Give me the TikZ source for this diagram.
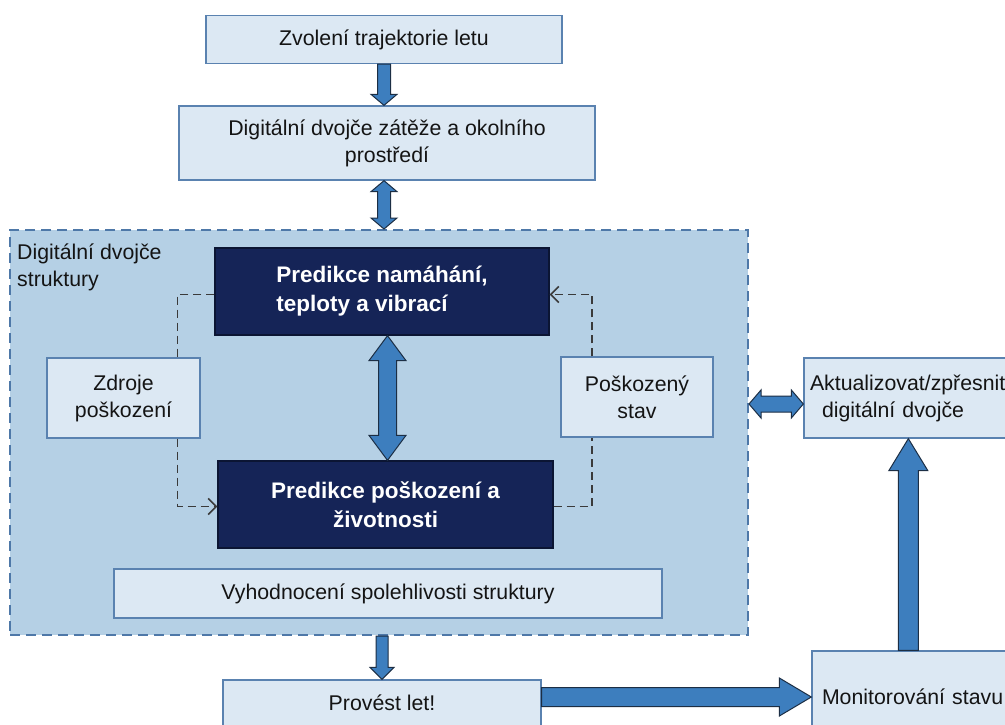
\documentclass[tikz,border=0pt]{standalone}
\usepackage{fontspec}
\setmainfont{Liberation Sans}
\usepackage{tikz}
\usetikzlibrary{arrows.meta, calc}
\definecolor{BoxFill}{HTML}{DCE8F3}
\definecolor{BoxLine}{HTML}{5A82B0}
\definecolor{ContFill}{HTML}{B5D0E5}
\definecolor{ContLine}{HTML}{4E78A8}
\definecolor{DarkFill}{HTML}{152457}
\definecolor{DarkLine}{HTML}{0B1533}
\definecolor{ArrowFill}{HTML}{3D7EBE}
\definecolor{ArrowLine}{HTML}{1C2E44}
\definecolor{DashGray}{HTML}{3A3A3A}
\definecolor{TextBlack}{HTML}{141414}
\tikzset{
  % Box styles
  lightbox/.style={rectangle, draw=BoxLine, line width=1.3pt, fill=BoxFill, text=TextBlack, align=center, inner sep=0pt},
  darkbox/.style={rectangle, draw=DarkLine, line width=1.3pt, fill=DarkFill, text=white, font=\fontsize{22.5}{29}\selectfont\bfseries, inner sep=0pt},
  contbox/.style={rectangle, draw=ContLine, line width=2pt, dash pattern=on 10pt off 6pt, fill=ContFill},
  % Arrow styles
  dashline/.style={draw=DashGray, line width=1.8pt, dash pattern=on 8pt off 5pt},
  dasharrow/.style={dashline, -{Straight Barb[length=8pt, width=16pt, line width=1.6pt]}},
  fatarrowstyle/.style={fill=ArrowFill, draw=ArrowLine, line width=1pt, line join=miter}
}
% fat arrow: from, to, half shaft, half head, head length
\newcommand{\fatarrow}[5]{%
  \coordinate (fahead) at ($(#2)!#5!(#1)$);
  \filldraw[fatarrowstyle] ($(#1)!#3!90:(#2)$) -- ($(fahead)!#3!90:(#2)$) -- ($(fahead)!#4!90:(#2)$) -- (#2)
    -- ($(fahead)!#4!-90:(#2)$) -- ($(fahead)!#3!-90:(#2)$) -- ($(#1)!#3!-90:(#2)$) -- cycle;
}
\newcommand{\fatdarrow}[5]{%
  \coordinate (faheadA) at ($(#1)!#5!(#2)$);
  \coordinate (faheadB) at ($(#2)!#5!(#1)$);
  \filldraw[fatarrowstyle] (#1) -- ($(faheadA)!#4!90:(#2)$) -- ($(faheadA)!#3!90:(#2)$) -- ($(faheadB)!#3!90:(#2)$)
    -- ($(faheadB)!#4!90:(#2)$) -- (#2) -- ($(faheadB)!#4!-90:(#2)$) -- ($(faheadB)!#3!-90:(#2)$)
    -- ($(faheadA)!#3!-90:(#2)$) -- ($(faheadA)!#4!-90:(#2)$) -- cycle;
}

\begin{document}
\begin{tikzpicture}[x=1pt, y=-1pt, font=\fontsize{21.3}{27}\selectfont]
  \useasboundingbox (0,0) rectangle (1005,724);
  \clip (0,0) rectangle (1005,724);

  % Top boxes
  \node[lightbox, minimum width=356, minimum height=48] (zvol) at (384,39.5) {Zvolení trajektorie letu};
  \node[lightbox, minimum width=416, minimum height=74] (dvoj) at (387,143) {Digitální dvojče zátěže a okolního\\prostředí};

  % Digital twin of the structure
  \node[contbox, minimum width=738, minimum height=405] (cont) at (379,432.5) {};
  \node[anchor=west, align=left, text=TextBlack, inner sep=4pt] (contlbl) at (13,267) {Digitální dvojče\\struktury};

  \node[darkbox, align=left, minimum width=334, minimum height=87] (p1) at (382,291.5) {Predikce namáhání,\\teploty a vibrací};
  \node[darkbox, align=center, minimum width=335, minimum height=87] (p2) at (385.5,504.5) {Predikce poškození a\\životnosti};

  \node[lightbox, minimum width=153, minimum height=80] (zdroje) at (123.5,398) {Zdroje\\poškození};
  \node[lightbox, minimum width=152, minimum height=80] (poskoz) at (637,397) {Poškozený\\stav};

  \node[lightbox, minimum width=548, minimum height=49] (vyhod) at (388,593.5) {Vyhodnocení spolehlivosti struktury};

  % Bottom and right boxes
  \node[lightbox, minimum width=318, minimum height=46] (prov) at (382,703) {Provést let!};
  \node[lightbox, align=left, minimum width=230, minimum height=92, text width=210, inner xsep=10pt] (mon) at (927,697) {Monitorování stavu};
  \node[lightbox, align=left, minimum width=230, minimum height=80, text width=218, inner xsep=6pt] (akt) at (919,398) {Aktualizovat/zpřesnit\\\hspace*{12pt}digitální dvojče};

  % Dashed loops
  \draw[dashline] ([yshift=-3pt]p1.west) -| ([xshift=54pt]zdroje.north);
  \draw[dasharrow] ([xshift=54pt]zdroje.south) |- ([yshift=-2pt]p2.west);
  \draw[dashline] ([yshift=-2pt]p2.east) -| ([xshift=-45pt]poskoz.south);
  \draw[dasharrow] ([xshift=-45pt]poskoz.north) |- ([yshift=-3pt]p1.east);

  % Block arrows
  \coordinate (a1e) at (zvol.south |- dvoj.north);
  \fatarrow{zvol.south}{a1e}{6.5pt}{13pt}{11pt}
  \coordinate (a2s) at (zvol.south |- dvoj.south);
  \coordinate (a2e) at (zvol.south |- cont.north);
  \fatdarrow{a2s}{a2e}{6.5pt}{13pt}{11pt}
  \coordinate (a3e) at ([xshift=2pt]p2.north);
  \coordinate (a3s) at (a3e |- p1.south);
  \fatdarrow{a3s}{a3e}{9pt}{18.5pt}{25pt}
  \coordinate (a4s) at (prov.north |- cont.south);
  \fatarrow{a4s}{prov.north}{6pt}{12pt}{12pt}
  \coordinate (a5s) at ([yshift=6pt]prov.east);
  \coordinate (a5e) at (a5s -| mon.west);
  \fatarrow{a5s}{a5e}{9.5pt}{19pt}{32pt}
  \coordinate (a6s) at ([xshift=97pt]mon.north west);
  \coordinate (a6e) at (a6s |- akt.south);
  \fatarrow{a6s}{a6e}{10pt}{19.5pt}{32pt}
  \coordinate (a7e) at ([yshift=-6pt]akt.west);
  \coordinate (a7s) at (a7e -| cont.east);
  \fatdarrow{a7s}{a7e}{8pt}{14pt}{12pt}
\end{tikzpicture}
\end{document}
